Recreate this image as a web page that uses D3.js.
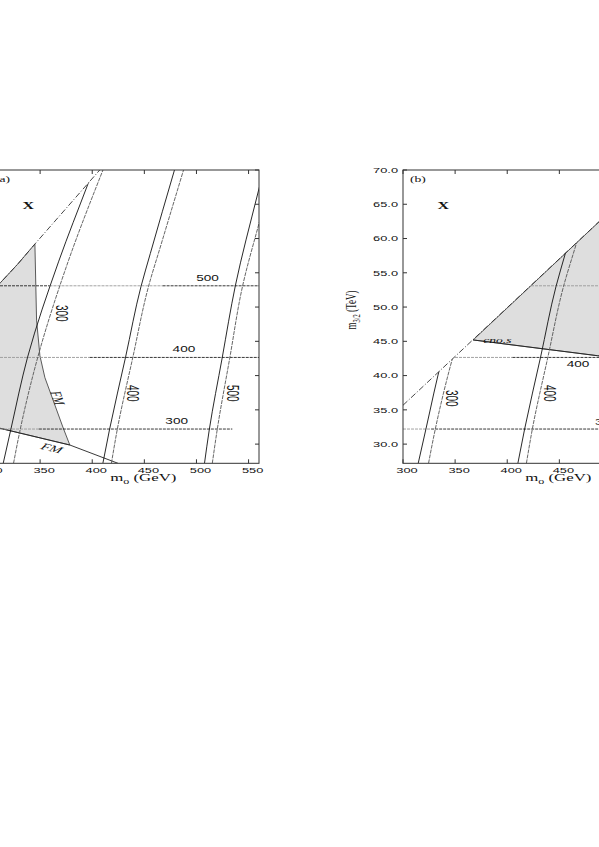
<!DOCTYPE html>
<html>
<head>
<meta charset="utf-8">
<script src="https://cdn.jsdelivr.net/npm/d3@7"></script>
<style>
  body { margin: 0; background: #fff; }
  svg { display: block; }
</style>
</head>
<body>
<div id="chart"></div>
<script>
var svgWidth = 599;
var svgHeight = 847;

// axes, same for both panels
var m0Range = [300, 560];
var m32Range = [27.2, 70];
var xTicks = [300, 350, 400, 450, 500, 550];
var yTicks = [30, 35, 40, 45, 50, 55, 60, 65, 70];

// near-vertical contour pairs, [m0, m3/2]
var pair300Solid = [[314.6, 27.2], [322, 32.2], [338, 42.7], [367.9, 56.7], [396, 68], [401, 70]];
var pair300Dash = [[324.5, 27.2], [331, 32.2], [347.8, 42.7], [376.8, 56.6], [410.3, 70]];
var pair400Solid = [[410.2, 27.2], [416.7, 32.2], [432, 42.7], [446.8, 53.0], [455.7, 57.8], [478.9, 70]];
var pair400Dash = [[418.4, 27.2], [424.1, 32.2], [439, 42.7], [454, 53.0], [466.2, 59.2], [487.6, 70]];
var pair500Solid = [[507.7, 27.2], [512.4, 32.2], [524.7, 42.6], [537.3, 53.1], [558.7, 66.5], [564.5, 70]];
var pair500Dash = [[515.2, 27.2], [520, 32.2], [532, 42.6], [544.3, 53.1], [560, 62.2], [574, 70]];

// horizontal contours: [m3/2, m0 from, m0 to]
var darkA = [[53.1, 300, 359], [53.1, 467.5, 560], [42.65, 397.6, 560], [32.2, 348.8, 534.4]];
var lightA = [[53.1, 359, 467.5], [42.65, 300, 397.6], [32.2, 300, 348.8]];
var darkB = [[42.65, 405, 560], [32.2, 327, 560]];
var lightB = [[53.1, 300, 560], [42.65, 300, 405], [32.2, 300, 327]];

// excluded-region edge (X above it)
var diagA = [[300, 51.6], [328.7, 56.3], [345, 59.2], [407.2, 70]];
var diagB = [[300, 35.67], [541, 70]];

// shaded regions
var grayA = [[300, 51.6], [328.7, 56.3], [345, 59.2], [346.6, 48.1], [349.8, 42.9], [354.6, 39.7],
  [371.8, 32.5], [378.5, 29.87], [311.5, 32.31], [300, 32.7]];
var fmLowA = [[300, 32.7], [311.5, 32.31], [378.5, 29.87], [424.7, 27.2]];
var grayB = [[367.3, 45.2], [541, 70], [560, 70], [560, 41.5], [486.6, 42.9]];
var cnosB = [[367.3, 45.2], [486.6, 42.9], [560, 41.5]];

// contour labels [m0, m3/2, text]
var hLabelsA = [[510.6, 54.24, "500"], [488, 43.88, "400"], [481, 33.39, "300"]];
var hLabelsB = [[467.9, 41.69, "400"], [495.2, 33.29, "300"]];
var vLabelsA = [[370.6, 49.09, "300"], [439, 37.41, "400"], [534.7, 37.41, "500"]];
var vLabelsB = [[346.7, 36.69, "300"], [441, 37.41, "400"]];

var stretch = 1.6;
var sans = "'Liberation Sans', Arial, sans-serif";
var serif = "'Liberation Serif', 'Times New Roman', serif";

var svg = d3.select("#chart")
  .append("svg")
  .attr("width", svgWidth)
  .attr("height", svgHeight);

function addText(g, x, y, str, o) {
  o = o || {};
  var t = g.append("text")
    .attr("transform", `translate(${x},${y}) scale(${stretch},1) rotate(${o.rotate || 0})`)
    .attr("text-anchor", o.anchor || "middle")
    .attr("dy", o.dy == null ? "0.35em" : o.dy)
    .attr("font-family", o.family || sans)
    .attr("font-size", o.size || 8)
    .attr("fill", "#111");
  if (o.italic) t.attr("font-style", "italic");
  if (o.bold) t.attr("font-weight", "bold");
  t.text(str);
  return t;
}

function drawPanel(p) {
  var x = d3.scaleLinear().domain(m0Range).range([p.left, p.left + 271]);
  var y = d3.scaleLinear().domain(m32Range).range([463.3, 170]);
  var line = d3.line().x(d => x(d[0])).y(d => y(d[1]));
  var g = svg.append("g");

  // clip paths: plot box, and the allowed area below the diagonal
  var defs = svg.append("defs");
  defs.append("clipPath").attr("id", "box-" + p.name)
    .append("rect")
    .attr("x", x(m0Range[0])).attr("y", y(m32Range[1]))
    .attr("width", x(m0Range[1]) - x(m0Range[0]))
    .attr("height", y(m32Range[0]) - y(m32Range[1]));
  var below = [[m0Range[0], m32Range[0]]].concat(p.diag)
    .concat([[m0Range[1], m32Range[1]], [m0Range[1], m32Range[0]]]);
  defs.append("clipPath").attr("id", "below-" + p.name)
    .append("path").attr("d", line(below) + "Z");

  var boxed = g.append("g").attr("clip-path", `url(#box-${p.name})`);
  var allowed = g.append("g").attr("clip-path", `url(#below-${p.name})`);

  // shaded region
  boxed.append("path")
    .attr("d", line(p.gray) + "Z")
    .attr("fill", "#dedede")
    .attr("stroke", "#333")
    .attr("stroke-width", 0.8);

  // horizontal contours
  allowed.selectAll(".hl")
    .data(p.light)
    .enter()
    .append("line")
    .attr("x1", d => x(d[1])).attr("x2", d => x(d[2]))
    .attr("y1", d => y(d[0])).attr("y2", d => y(d[0]))
    .attr("stroke", "#999")
    .attr("stroke-width", 0.9)
    .attr("stroke-dasharray", "3,1");
  allowed.selectAll(".hd")
    .data(p.dark)
    .enter()
    .append("line")
    .attr("x1", d => x(d[1])).attr("x2", d => x(d[2]))
    .attr("y1", d => y(d[0])).attr("y2", d => y(d[0]))
    .attr("stroke", "#222")
    .attr("stroke-width", 0.9)
    .attr("stroke-dasharray", "3,1");

  // near-vertical contour pairs
  var curved = d3.line().x(d => x(d[0])).y(d => y(d[1])).curve(d3.curveMonotoneY);
  [pair300Solid, pair400Solid, pair500Solid].forEach(function(d) {
    allowed.append("path").attr("d", curved(d))
      .attr("fill", "none").attr("stroke", "#111").attr("stroke-width", 0.9);
  });
  [pair300Dash, pair400Dash, pair500Dash].forEach(function(d) {
    allowed.append("path").attr("d", curved(d))
      .attr("fill", "none").attr("stroke", "#555").attr("stroke-width", 0.9)
      .attr("stroke-dasharray", "4,1");
  });

  // diagonal edge, dash-dot
  boxed.append("path")
    .attr("d", line(p.diag))
    .attr("fill", "none")
    .attr("stroke", "#333")
    .attr("stroke-width", 0.9)
    .attr("stroke-dasharray", "6,2,1,2");

  boxed.append("path")
    .attr("d", line(p.edge))
    .attr("fill", "none")
    .attr("stroke", "#222")
    .attr("stroke-width", 0.9);

  // frame and inward ticks
  g.append("rect")
    .attr("x", x(m0Range[0])).attr("y", y(m32Range[1]))
    .attr("width", x(m0Range[1]) - x(m0Range[0]))
    .attr("height", y(m32Range[0]) - y(m32Range[1]))
    .attr("fill", "none").attr("stroke", "#333").attr("stroke-width", 1);

  var ticks = g.append("g").attr("stroke", "#333").attr("stroke-width", 1);
  xTicks.forEach(function(t) {
    ticks.append("line").attr("x1", x(t)).attr("x2", x(t)).attr("y1", y(m32Range[1])).attr("y2", y(m32Range[1]) + 4);
    ticks.append("line").attr("x1", x(t)).attr("x2", x(t)).attr("y1", y(m32Range[0])).attr("y2", y(m32Range[0]) - 4);
  });
  yTicks.forEach(function(t) {
    ticks.append("line").attr("x1", x(m0Range[0])).attr("x2", x(m0Range[0]) + 4).attr("y1", y(t)).attr("y2", y(t));
    ticks.append("line").attr("x1", x(m0Range[1])).attr("x2", x(m0Range[1]) - 4).attr("y1", y(t)).attr("y2", y(t));
  });

  // tick labels
  xTicks.forEach(function(t) {
    addText(g, x(t) + 4, 470, String(t), { size: 8 });
  });

  // axis title, x
  var xt = g.append("text")
    .attr("transform", `translate(${x(449)},481) scale(${stretch},1)`)
    .attr("text-anchor", "middle")
    .attr("font-family", serif)
    .attr("font-size", 10.5)
    .attr("fill", "#111");
  xt.append("tspan").text("m");
  xt.append("tspan").attr("dy", 2.5).attr("font-size", 7.5).text("o");
  xt.append("tspan").attr("dy", -2.5).text(" (GeV)");

  // the y axis of panel (a) lies outside the page, only (b) shows it
  if (p.yAxis) {
    yTicks.forEach(function(t) {
      addText(g, x(m0Range[0]) - 5, y(t), d3.format(".1f")(t), { size: 8, anchor: "end" });
    });
    var yt = g.append("text")
      .attr("transform", `translate(${x(m0Range[0]) - 47},310) scale(${stretch},1) rotate(-90)`)
      .attr("text-anchor", "middle")
      .attr("font-family", serif)
      .attr("font-size", 9)
      .attr("fill", "#111");
    yt.append("tspan").text("m");
    yt.append("tspan").attr("dy", 2.5).attr("font-size", 6.5).text("3/2");
    yt.append("tspan").attr("dy", -2.5).text(" (TeV)");
  }

  // contour labels
  p.hLabels.forEach(function(d) {
    addText(g, x(d[0]), y(d[1]), d[2], { size: 8.5 });
  });
  p.vLabels.forEach(function(d) {
    addText(g, x(d[0]), y(d[1]), d[2], { size: 10, rotate: 90 });
  });

  // region labels
  addText(g, x(338.7), y(64.85), "X", { size: 10, family: serif, bold: true });
  addText(g, x(306.7), y(68.7), "(" + p.name + ")", { size: 8.5, family: serif, anchor: "start" });

  if (p.extra) p.extra(g, x, y);
}

drawPanel({
  name: "a", left: -12, yAxis: false,
  diag: diagA, gray: grayA, edge: fmLowA,
  light: lightA, dark: darkA,
  hLabels: hLabelsA, vLabels: vLabelsA,
  extra: function(g, x, y) {
    addText(g, x(367), y(36.73), "FM", { size: 9.5, family: serif, italic: true, rotate: 77 });
    addText(g, x(361.2), y(29.43), "FM", { size: 9.5, family: serif, italic: true, rotate: 21 });
  }
});

drawPanel({
  name: "b", left: 403, yAxis: true,
  diag: diagB, gray: grayB, edge: cnosB,
  light: lightB, dark: darkB,
  hLabels: hLabelsB, vLabels: vLabelsB,
  extra: function(g, x, y) {
    addText(g, x(377), y(44.71), "cno.s", { size: 8.5, family: serif, italic: true, anchor: "start", dy: 0 });
  }
});
</script>
</body>
</html>
